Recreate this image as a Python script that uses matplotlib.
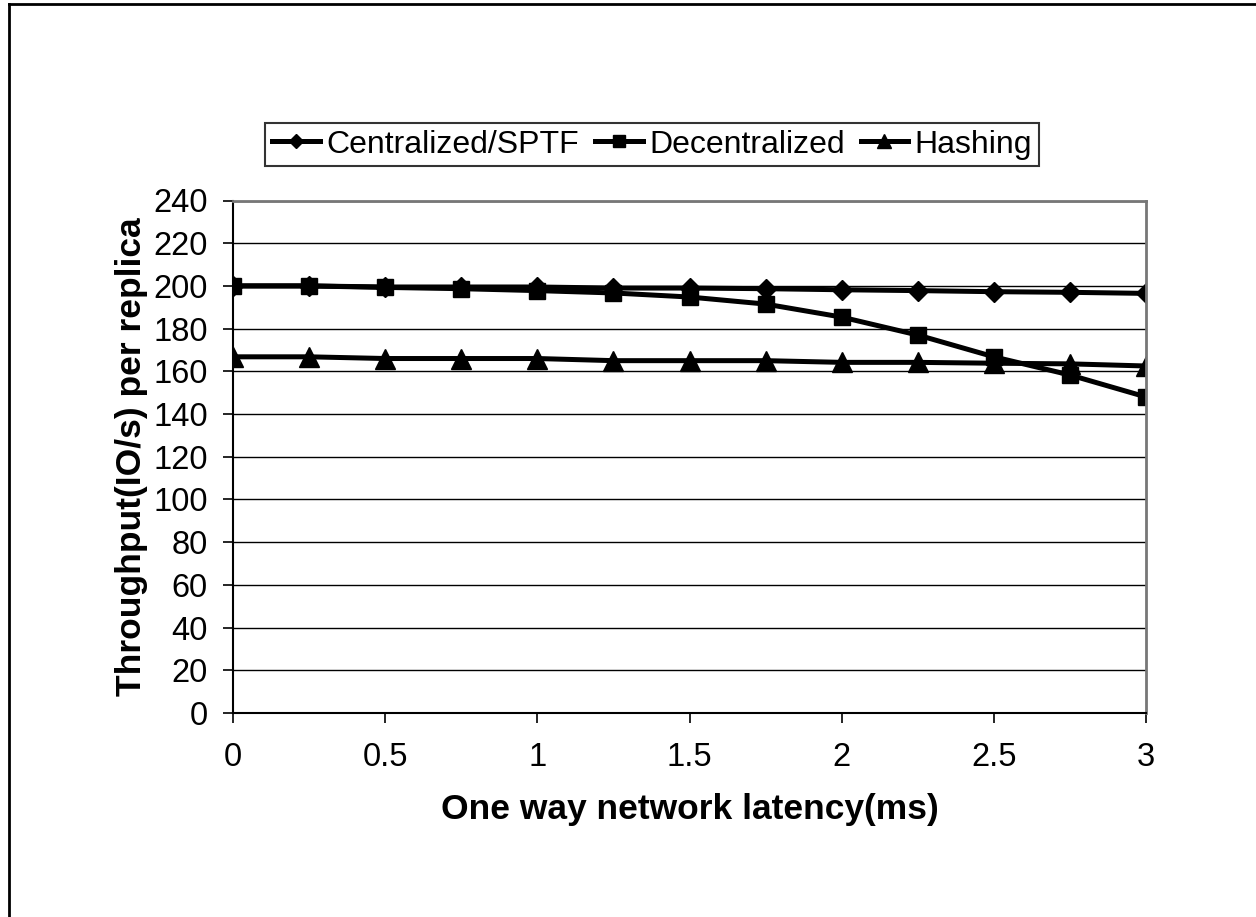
import matplotlib.pyplot as plt
from matplotlib.lines import Line2D

plt.rcParams['font.family'] = ['Liberation Sans', 'DejaVu Sans']

latency = [0, 0.25, 0.5, 0.75, 1, 1.25, 1.5, 1.75, 2, 2.25, 2.5, 2.75, 3]
centralized = [200, 200, 199.5, 199.5, 199.5, 199, 199, 198.7, 198.2, 197.8, 197.3, 197, 196.5]
decentralized = [200, 200, 199.3, 198.7, 197.8, 196.7, 194.8, 191.5, 185.4, 177, 166.8, 158.3, 148]
hashing = [166.8, 166.8, 166, 166, 166, 165, 165, 165, 164.2, 164.2, 163.8, 163.5, 162.5]

fig = plt.figure(figsize=(12.56, 9.17), dpi=100)
ax = fig.add_axes([233 / 1256, 1 - 713 / 917, (1146 - 233) / 1256, (713 - 200.5) / 917])

lw = 3.6
ax.plot(latency, centralized, color='black', lw=lw, marker='D', ms=10, label='Centralized/SPTF')
ax.plot(latency, decentralized, color='black', lw=lw, marker='s', ms=12, label='Decentralized')
ax.plot(latency, hashing, color='black', lw=lw, marker='^', ms=14, label='Hashing')

ax.set_xlim(0, 3)
ax.set_ylim(0, 240)
ax.set_yticks(range(0, 241, 20))
ax.set_xticks([0, 0.5, 1, 1.5, 2, 2.5, 3])
ax.set_xticklabels(['0', '0.5', '1', '1.5', '2', '2.5', '3'])
ax.yaxis.grid(True, color='black', lw=1)
ax.set_axisbelow(True)

ax.tick_params(axis='y', direction='out', length=7, width=1.2, labelsize=23.5, pad=11)
ax.tick_params(axis='x', direction='out', length=7, width=1.2, labelsize=23.5, pad=14)

for s in ['left', 'bottom']:
    ax.spines[s].set_color('black')
    ax.spines[s].set_linewidth(1.5)
for s in ['top', 'right']:
    ax.spines[s].set_color('#777777')
    ax.spines[s].set_linewidth(2)
    ax.spines[s].set_linestyle((0, (1, 1)))

ax.set_xlabel('One way network latency(ms)', fontsize=25.5, fontweight='bold', labelpad=14)
ax.set_ylabel('Throughput(IO/s) per replica', fontsize=25.5, fontweight='bold', labelpad=4)

leg = ax.legend(loc='lower center', bbox_to_anchor=(652 / 1256, 1 - 166 / 917), bbox_transform=fig.transFigure,
                ncol=3, fontsize=23, frameon=True, fancybox=False, edgecolor='black',
                handlelength=1.5, handletextpad=0.2, columnspacing=0.5, borderpad=0.2, borderaxespad=0,
                markerscale=0.75)
leg.get_frame().set_linewidth(1.5)

# outer chart-area border (top and left edges visible)
fig.add_artist(Line2D([9 / 1256, 1], [1 - 4 / 917, 1 - 4 / 917], transform=fig.transFigure, color='black', lw=2))
fig.add_artist(Line2D([9 / 1256, 9 / 1256], [0, 1 - 4 / 917], transform=fig.transFigure, color='black', lw=2))

fig.savefig('out.png', dpi=100)
